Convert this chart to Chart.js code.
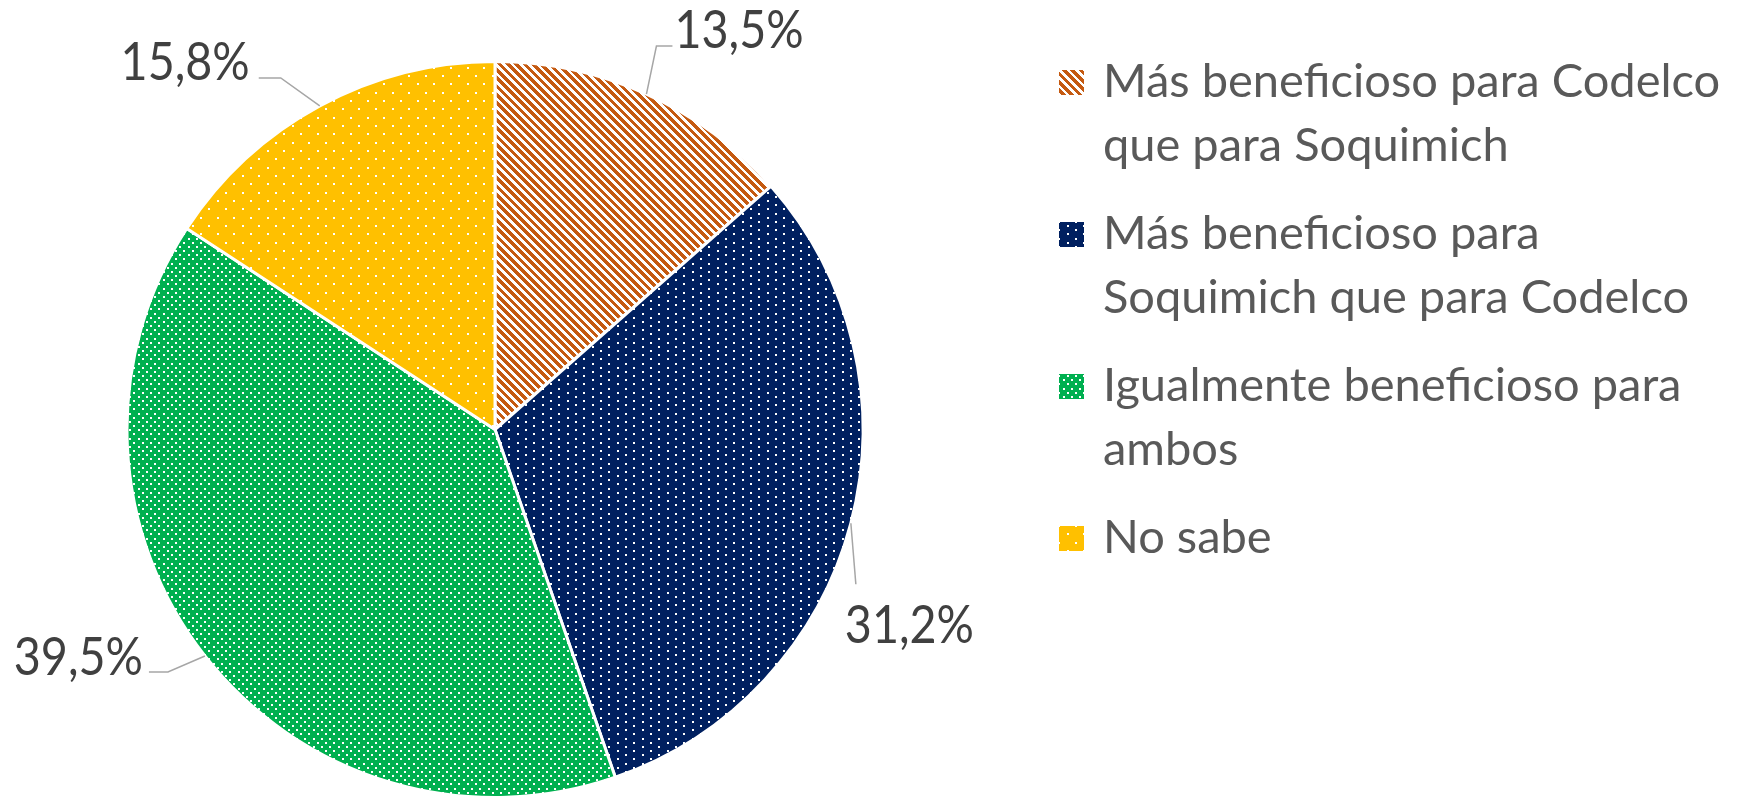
<!DOCTYPE html>
<html>
  <head>
    <meta charset="utf-8" />
    <title>Codelco / Soquimich</title>
    <script src="https://cdn.jsdelivr.net/npm/chart.js"></script>
    <style>
      body { margin: 0; background: #fff; }
      canvas { display: block; }
    </style>
  </head>
  <body>
    <canvas id="pieChart" width="1764" height="799"></canvas>

    <script>
      // chart data
      const categories = [
        ["Más beneficioso para Codelco", "que para Soquimich"],
        ["Más beneficioso para", "Soquimich que para Codelco"],
        ["Igualmente beneficioso para", "ambos"],
        ["No sabe"],
      ];
      const values = [13.5, 31.2, 39.5, 15.8];
      const sliceColors = ["#C55A11", "#002060", "#00B050", "#FFC000"];

      // build the fill patterns (stripes for the first slice, dots for the rest)
      function stripePattern(color) {
        const c = document.createElement("canvas");
        c.width = 25;
        c.height = 25;
        const g = c.getContext("2d");
        g.fillStyle = "#fff";
        g.fillRect(0, 0, 25, 25);
        g.fillStyle = color;
        for (let y = 0; y < 25; y++) {
          for (let x = 0; x < 25; x++) {
            const d = (((x - y) % 25) + 25) % 25;
            if (d % (25 / 3) < 4.6) g.fillRect(x, y, 1, 1);
          }
        }
        return g.createPattern(c, "repeat");
      }

      function dotPattern(color, w, h, cols, rows) {
        const c = document.createElement("canvas");
        c.width = w;
        c.height = h;
        const g = c.getContext("2d");
        g.fillStyle = color;
        g.fillRect(0, 0, w, h);
        g.fillStyle = "#fff";
        const sx = w / cols;
        const sy = h / rows;
        for (let j = 0; j < rows; j++) {
          for (let i = 0; i < cols; i++) {
            const x = Math.round(i * sx + (j % 2) * sx / 2);
            const y = Math.round(j * sy);
            g.fillRect(x % w, y, 2, 2);
          }
        }
        return g.createPattern(c, "repeat");
      }

      const fills = [
        stripePattern(sliceColors[0]),
        dotPattern(sliceColors[1], 50, 25, 3, 6),
        dotPattern(sliceColors[2], 25, 25, 3, 6),
        dotPattern(sliceColors[3], 50, 50, 3, 6),
      ];

      // where each value label sits relative to the slice edge point
      const labelLayout = [
        { elbow: [10, -48], end: [26, -48], text: [2, 2], align: "left" },
        { elbow: [5, 61], end: [5, 61], text: [-11, 59], align: "left" },
        { elbow: [-37, 16], end: [-56, 16], text: [-6, 3], align: "right" },
        { elbow: [-39, -28], end: [-61, -28], text: [-9, 2], align: "right" },
      ];

      const pieLabels = {
        id: "pieLabels",
        afterDatasetsDraw(chart) {
          const ctx = chart.ctx;
          const meta = chart.getDatasetMeta(0);
          ctx.save();
          meta.data.forEach((arc, i) => {
            const p = arc.getProps(["x", "y", "startAngle", "endAngle", "outerRadius"], true);
            const mid = (p.startAngle + p.endAngle) / 2;
            const ex = p.x + Math.cos(mid) * p.outerRadius;
            const ey = p.y + Math.sin(mid) * p.outerRadius;
            const lay = labelLayout[i];
            const bx = ex + lay.elbow[0], by = ey + lay.elbow[1];
            const tx = ex + lay.end[0], ty = ey + lay.end[1];

            ctx.strokeStyle = "#A6A6A6";
            ctx.lineWidth = 1.5;
            ctx.beginPath();
            ctx.moveTo(ex, ey);
            ctx.lineTo(bx, by);
            ctx.lineTo(tx, ty);
            ctx.stroke();

            // labels are a narrow face in the original, squeeze a bit
            const txt = values[i].toFixed(1).replace(".", ",") + "%";
            const sx = 0.88;
            ctx.save();
            ctx.translate(tx + lay.text[0], ty + lay.text[1]);
            ctx.scale(sx, 1);
            ctx.fillStyle = "#404040";
            ctx.font = "53px Lato";
            ctx.textAlign = lay.align;
            ctx.textBaseline = "alphabetic";
            ctx.fillText(txt, 0, 0);
            ctx.restore();
          });

          // legend on the right
          ctx.font = "47px Lato";
          ctx.textAlign = "left";
          let base = 97;
          categories.forEach((lines, i) => {
            ctx.fillStyle = fills[i];
            ctx.fillRect(1059, base - 27, 25, 25);
            ctx.fillStyle = "#595959";
            lines.forEach((line, k) => {
              ctx.fillText(line, 1103, base + k * 64);
            });
            base += 152;
          });
          ctx.restore();
        },
      };

      new Chart(document.getElementById("pieChart").getContext("2d"), {
        type: "pie",
        data: {
          labels: categories,
          datasets: [
            {
              data: values,
              backgroundColor: fills,
              borderColor: "#ffffff",
              borderWidth: 3,
            },
          ],
        },
        options: {
          responsive: false,
          animation: false,
          layout: { padding: { left: 125, right: 899, top: 60, bottom: 0 } },
          plugins: {
            legend: { display: false },
            tooltip: { enabled: false },
          },
        },
        plugins: [pieLabels],
      });
    </script>
  </body>
</html>
